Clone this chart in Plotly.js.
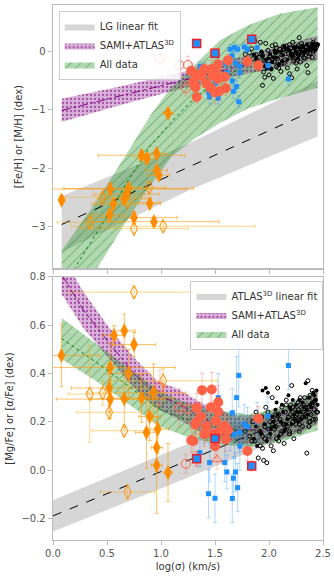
<!DOCTYPE html>
<html>
<head>
<meta charset="utf-8">
<script src="https://cdn.plot.ly/plotly-3.0.1.min.js"></script>
<style>
  body { margin: 0; background: #fff; }
  #myDiv { width: 334px; height: 584px; }
</style>
</head>
<body>
<div id="myDiv"></div>
<script>
// ---- fit bands, top panel ([Fe/H]) ----
var lgX = [0.08, 1.26, 2.45];
var lgLo = [-3.44, -2.38, -1.46];
var lgMid = [-2.97, -1.98, -0.98];
var lgHi = [-2.48, -1.58, -0.50];

var samiTopX = [0.08, 0.6, 1.2, 1.8, 2.45];
var samiTopLo = [-1.21, -0.93, -0.63, -0.38, -0.15];
var samiTopMid = [-1.01, -0.77, -0.49, -0.22, 0.06];
var samiTopHi = [-0.81, -0.61, -0.35, -0.06, 0.27];

var allTopX = [0.08, 0.2, 0.41, 0.65, 0.9, 1.1, 1.33, 1.55, 1.8, 2.1, 2.45];
var allTopLo = [-4.7, -4.3, -3.72, -3.0, -2.3, -1.8, -1.47, -1.22, -0.98, -0.8, -0.62];
var allTopMid = [-4.1, -3.72, -3.1, -2.35, -1.62, -1.2, -0.76, -0.48, -0.22, -0.03, 0.06];
var allTopHi = [-3.42, -3.1, -2.55, -1.85, -1.1, -0.6, -0.2, 0.2, 0.45, 0.65, 0.76];

// ---- fit bands, bottom panel ([Mg/Fe]) ----
var atlasX = [0.0, 1.2, 2.45];
var atlasLo = [-0.255, -0.04, 0.19];
var atlasMid = [-0.19, 0.03, 0.26];
var atlasHi = [-0.125, 0.10, 0.33];

var samiBotX = [0.08, 0.28, 0.52, 0.74, 0.96, 1.16, 1.4, 1.7, 1.98, 2.2, 2.45];
var samiBotLo = [0.73, 0.59, 0.46, 0.345, 0.255, 0.21, 0.15, 0.11, 0.11, 0.14, 0.19];
var samiBotMid = [0.81, 0.664, 0.526, 0.405, 0.312, 0.275, 0.21, 0.165, 0.168, 0.2, 0.255];
var samiBotHi = [0.89, 0.74, 0.59, 0.47, 0.37, 0.335, 0.27, 0.225, 0.23, 0.26, 0.325];

var allBotX = [0.08, 0.43, 0.74, 0.99, 1.23, 1.48, 1.8, 2.1, 2.45];
var allBotLo = [0.46, 0.36, 0.26, 0.18, 0.14, 0.11, 0.095, 0.115, 0.165];
var allBotMid = [0.545, 0.437, 0.334, 0.251, 0.21, 0.18, 0.16, 0.185, 0.244];
var allBotHi = [0.63, 0.515, 0.41, 0.325, 0.28, 0.25, 0.23, 0.255, 0.33];

// ---- massive galaxies (black), same x in both panels ----
var openX = [1.85,1.87,1.88,1.90,1.91,1.92,1.93,1.95,1.96,1.97,1.98,2.00,2.01,2.02,2.03,2.05,2.06,2.07,2.08,2.10,
             2.11,2.12,2.13,2.14,2.15,2.16,2.17,2.18,2.19,2.20,2.21,2.22,2.23,2.24,2.25,2.26,2.27,2.28,2.29,2.30,
             2.31,2.32,2.33,2.34,2.35,2.36,2.37,2.38,2.39,2.40,2.41,2.42,2.43,2.44,1.94,2.04,2.09,2.19,2.28,2.36,
             1.78,1.82,1.84,1.89,1.94,1.99,2.03,2.07,2.12,2.16,2.20,2.24,2.27,2.31,2.34,2.38,2.41,2.45,2.00,2.09,
             2.14,2.25,2.32,2.43,1.96,2.06,2.22,2.29,2.37,2.40];
var openFeH = [-0.12,0.18,-0.05,-0.28,-0.10,0.16,-0.02,-0.35,-0.15,0.14,-0.22,-0.40,-0.08,-0.30,0.10,-0.18,-0.02,-0.26,-0.12,0.04,
               -0.34,-0.06,0.08,-0.20,-0.14,0.02,-0.28,-0.04,0.12,-0.10,-0.45,0.00,-0.16,0.06,-0.08,-0.30,0.10,-0.02,-0.18,0.14,
               -0.06,0.04,-0.12,0.08,-0.24,0.00,0.12,-0.04,0.06,-0.10,0.16,0.02,0.10,0.08,-0.58,-0.46,-0.22,-0.38,0.24,-0.36,
               -0.05,-0.02,0.05,-0.18,-0.06,0.02,-0.12,0.06,-0.20,0.10,0.06,-0.12,-0.05,-0.02,0.02,0.08,0.00,0.12,-0.16,-0.28,
               0.04,-0.20,-0.10,0.04,-0.44,0.12,0.16,0.06,-0.08,0.04];
var openMgFe = [0.20,0.12,0.24,0.05,0.16,0.10,0.22,0.04,0.18,0.26,0.03,0.14,0.20,0.10,0.30,0.17,0.23,0.13,0.34,0.21,
                0.15,0.26,0.19,0.11,0.24,0.29,0.18,0.22,0.16,0.27,0.35,0.20,0.13,0.25,0.19,0.23,0.28,0.16,0.21,0.26,
                0.18,0.24,0.30,0.22,0.07,0.26,0.20,0.31,0.23,0.27,0.21,0.25,0.29,0.24,0.09,0.08,0.12,0.15,0.19,0.37,
                0.16,0.14,0.12,0.20,0.14,0.24,0.19,0.21,0.16,0.27,0.23,0.21,0.25,0.22,0.26,0.20,0.28,0.24,0.17,0.23,
                0.19,0.22,0.27,0.21,0.13,0.18,0.26,0.30,0.18,0.33];

var fillX = [1.86,1.89,1.92,1.94,1.96,1.99,2.01,2.03,2.05,2.07,2.09,2.11,2.13,2.15,2.17,2.19,2.21,2.23,2.25,2.27,
             2.29,2.31,2.33,2.35,2.37,2.39,2.41,2.43,1.98,2.06,2.14,2.22,2.30,2.38,2.44,1.90,2.02,2.18,2.26,2.34,
             1.88,1.93,1.97,2.04,2.08,2.12,2.16,2.20,2.24,2.28,2.32,2.36,2.40,2.42,2.45];
var fillFeH = [-0.05,-0.15,-0.20,-0.08,-0.25,-0.12,-0.04,-0.18,0.02,-0.10,-0.22,0.00,-0.06,0.06,-0.14,0.02,-0.08,0.08,0.00,-0.12,
               0.05,0.10,-0.02,0.12,0.04,0.08,0.14,0.10,-0.30,-0.02,0.10,-0.04,0.00,0.06,0.12,-0.22,-0.30,0.04,0.08,0.02,
               -0.10,0.00,-0.14,-0.10,0.00,-0.16,0.04,-0.04,0.06,-0.06,0.08,0.02,0.10,0.04,0.12];
var fillMgFe = [0.13,0.10,0.16,0.33,0.19,0.32,0.15,0.22,0.18,0.28,0.14,0.20,0.24,0.17,0.21,0.26,0.19,0.23,0.27,0.20,
                0.24,0.28,0.22,0.25,0.30,0.26,0.32,0.29,0.12,0.25,0.16,0.29,0.21,0.27,0.33,0.20,0.17,0.31,0.24,0.36,
                0.18,0.15,0.34,0.20,0.23,0.27,0.19,0.25,0.21,0.29,0.26,0.23,0.28,0.31,0.27];

// ---- blue squares ----
var blueX = [1.36,1.40,1.44,1.45,1.50,1.53,1.59,1.61,1.64,1.66,1.66,1.67,1.68,1.69,1.70,1.71,1.72,1.73,1.73,1.77,1.80,1.89,1.99,2.18];
var blueFeH = [-0.25,-0.30,-0.70,-0.78,-0.55,-0.80,-0.20,-0.36,0.04,-0.07,-0.50,-0.68,0.07,-0.20,-0.60,0.04,-0.86,-0.36,-0.25,0.08,0.04,0.07,-0.24,-0.47];
var blueFeHErr = [0.08,0.10,0.10,0.12,0.10,0.10,0.08,0.10,0.08,0.08,0.10,0.12,0.08,0.08,0.10,0.08,0.10,0.10,0.08,0.08,0.08,0.08,0.08,0.10];
var blueMgFe = [0.072,0.19,-0.098,0.031,-0.117,0.30,0.031,-0.008,0.16,0.237,-0.118,-0.034,0.148,-0.008,0.30,-0.073,0.392,0.099,0.155,0.19,0.18,0.20,0.224,0.433];
var blueMgFeErr = [0.06,0.08,0.10,0.08,0.10,0.10,0.08,0.07,0.08,0.10,0.10,0.09,0.10,0.08,0.17,0.10,0.13,0.10,0.08,0.08,0.08,0.08,0.08,0.10];

// ---- red circles ----
var redX = [1.28,1.30,1.32,1.33,1.33,1.37,1.38,1.40,1.42,1.46,1.47,1.48,1.50,1.51,1.53,1.53,1.54,1.59,1.60,1.62,1.80,1.90];
var redFeH = [-0.33,-0.52,-0.61,-0.78,-0.40,-0.42,-0.38,-0.30,-0.55,-0.62,-0.30,-0.41,-0.70,-0.32,-0.22,-0.47,-0.68,-0.43,-0.63,-0.15,-0.17,-0.24];
var redFeHErr = [0.12,0.15,0.12,0.10,0.15,0.12,0.15,0.12,0.15,0.20,0.15,0.12,0.20,0.15,0.12,0.20,0.15,0.12,0.12,0.10,0.10,0.10];
var redMgFe = [0.123,0.12,0.189,0.258,0.20,0.221,0.331,0.148,0.182,0.26,0.334,0.15,0.099,0.203,0.242,0.281,0.16,0.182,0.127,0.166,0.079,0.213];
var redMgFeErr = [0.05,0.05,0.06,0.06,0.05,0.06,0.07,0.05,0.06,0.07,0.07,0.05,0.05,0.06,0.06,0.07,0.05,0.05,0.05,0.05,0.04,0.05];

var redOpenX = [0.99, 1.17, 1.23, 1.25];
var redOpenFeH = [-0.13, -0.23, -0.63, -0.23];
var redOpenFeHErr = [0.29, 0.15, 0.12, 0.15];
var redOpenMgFe = [0.345, 0.258, 0.026, 0.254];
var redOpenMgFeErr = [0.07, 0.08, 0.04, 0.06];

var triX = [1.52];
var triMgFe = [0.044];

var boxX = [1.33, 1.50, 1.84];
var boxFeH = [0.14, -0.03, 0.21];
var boxMgFe = [0.047, 0.131, 0.017];

// ---- dwarfs (orange diamonds) ----
var dwTopX = [1.065,0.82,0.87,0.96,0.96,0.98,0.08,0.53,0.70,0.68,0.66,0.56,0.525,0.895,0.75,0.935];
var dwTopY = [-1.06,-1.78,-1.84,-1.75,-2.04,-2.12,-2.55,-2.36,-2.35,-2.45,-2.53,-2.62,-2.80,-2.61,-2.85,-2.92];
var dwTopXErr = [0.05,0.4,0.1,0.08,0.1,0.1,0.03,0.7,0.6,0.3,0.25,0.2,0.15,0.1,0.4,0.6];
var dwTopYErr = [0.06,0.08,0.08,0.08,0.08,0.08,0.08,0.1,0.1,0.1,0.1,0.1,0.1,0.08,0.1,0.08];

var dwoTopX = [0.46, 0.69, 0.89, 0.34, 0.75, 1.02];
var dwoTopY = [-2.50, -2.59, -2.33, -2.93, -3.04, -3.00];
var dwoTopXErr = [0.4, 0.3, 0.15, 0.3, 0.5, 0.85];
var dwoTopYErr = [0.08, 0.08, 0.1, 0.12, 0.08, 0.08];

var dwBotX = [0.078,0.565,0.66,0.75,0.53,0.70,0.52,0.53,0.66,0.82,0.93,0.895,0.97,0.865,0.96,0.96,1.065];
var dwBotY = [0.475,0.558,0.577,0.52,0.425,0.40,0.34,0.294,0.295,0.298,0.32,0.222,0.17,0.156,0.093,0.02,-0.01];
var dwBotXErr = [0.35,0.1,0.1,0.2,0.6,0.2,0.35,0.5,0.3,0.3,0.3,0.1,0.1,0.1,0.05,0.05,0.04];
var dwBotYErr = [0.13,0.04,0.07,0.05,0.1,0.1,0.1,0.08,0.12,0.1,0.12,0.1,0.1,0.15,0.1,0.2,0.12];

var dwoBotX = [0.75, 1.02, 0.34, 0.46, 0.52, 0.66, 0.69];
var dwoBotY = [0.737, 0.37, 0.315, 0.319, 0.239, 0.163, -0.091];
var dwoBotXErr = [0.6, 0.5, 0.2, 0.15, 0.3, 0.3, 0.25];
var dwoBotYErr = [0.02, 0.05, 0.2, 0.05, 0.03, 0.02, 0.03];

var PURPLE = '#800080', GREEN = '#008000', ORANGE = '#ff8c00', TOMATO = '#ff6347', BLUE = '#1e90ff';

function band(x, lo, hi, name, ax, leg, style) {
    var px = x.concat(x.slice().reverse());
    var py = hi.concat(lo.slice().reverse());
    var t = {
        x: px, y: py, xaxis: ax[0], yaxis: ax[1], legend: leg,
        type: 'scatter', mode: 'lines', fill: 'toself', name: name,
        line: { width: 0 }, hoverinfo: 'skip'
    };
    for (var k in style) t[k] = style[k];
    return t;
}
function mid(x, y, ax, color, dash) {
    return { x: x, y: y, xaxis: ax[0], yaxis: ax[1], type: 'scatter', mode: 'lines',
             line: { color: color, width: 1, dash: dash }, showlegend: false, hoverinfo: 'skip' };
}
function pts(x, y, ax, marker, ex, ey, ecol) {
    var t = { x: x, y: y, xaxis: ax[0], yaxis: ax[1], type: 'scatter', mode: 'markers',
              marker: marker, showlegend: false };
    if (ey) t.error_y = { type: 'data', array: ey, color: ecol, thickness: 1, width: 2 };
    if (ex) t.error_x = { type: 'data', array: ex, color: ecol, thickness: 1, width: 2 };
    return t;
}

var top = ['x', 'y'], bot = ['x2', 'y2'];
var grayStyle = { fillcolor: 'rgba(128,128,128,0.32)' };
var purpleStyle = { fillcolor: 'rgba(128,0,128,0.3)',
    fillpattern: { shape: '.', size: 4, solidity: 0.25, fgcolor: 'rgba(128,0,128,0.55)', bgcolor: 'rgba(128,0,128,0.3)' } };
var greenStyle = { fillcolor: 'rgba(0,128,0,0.3)',
    fillpattern: { shape: '/', size: 7, solidity: 0.12, fgcolor: 'rgba(0,110,0,0.55)', bgcolor: 'rgba(0,128,0,0.3)' } };

var data = [
    band(lgX, lgLo, lgHi, 'LG linear fit', top, 'legend', grayStyle),
    band(samiTopX, samiTopLo, samiTopHi, 'SAMI+ATLAS<sup>3D</sup>', top, 'legend', purpleStyle),
    band(allTopX, allTopLo, allTopHi, 'All data', top, 'legend', greenStyle),
    mid(lgX, lgMid, top, '#000', 'dash'),
    mid(samiTopX, samiTopMid, top, PURPLE, 'dashdot'),
    mid(allTopX, allTopMid, top, GREEN, 'dot'),

    band(atlasX, atlasLo, atlasHi, 'ATLAS<sup>3D</sup> linear fit', bot, 'legend2', grayStyle),
    band(samiBotX, samiBotLo, samiBotHi, 'SAMI+ATLAS<sup>3D</sup>', bot, 'legend2', purpleStyle),
    band(allBotX, allBotLo, allBotHi, 'All data', bot, 'legend2', greenStyle),
    mid(atlasX, atlasMid, bot, '#000', 'dash'),
    mid(samiBotX, samiBotMid, bot, PURPLE, 'dashdot'),
    mid(allBotX, allBotMid, bot, GREEN, 'dot'),

    // top panel points
    pts(openX, openFeH, top, { symbol: 'circle-open', size: 4, color: '#000', line: { width: 1 } }),
    pts(fillX, fillFeH, top, { symbol: 'circle', size: 4, color: '#000' }),
    pts(blueX, blueFeH, top, { symbol: 'square', size: 5, color: BLUE }, null, blueFeHErr, 'rgba(30,144,255,0.35)'),
    pts(redOpenX, redOpenFeH, top, { symbol: 'circle-open', size: 9, color: TOMATO, line: { width: 1 } }, null, redOpenFeHErr, 'rgba(255,99,71,0.35)'),
    pts(redX, redFeH, top, { symbol: 'circle', size: 10, color: TOMATO }, null, redFeHErr, 'rgba(255,99,71,0.4)'),
    pts(boxX, boxFeH, top, { symbol: 'square', size: 8, color: BLUE, line: { color: '#e8202a', width: 1.5 } }, null, [0.07, 0.07, 0.05], 'rgba(255,60,60,0.6)'),
    pts(dwoTopX, dwoTopY, top, { symbol: 'diamond-tall-open', size: 10, color: ORANGE, line: { width: 1 } }, dwoTopXErr, dwoTopYErr, 'rgba(255,165,0,0.45)'),
    pts(dwTopX, dwTopY, top, { symbol: 'diamond-tall', size: 11, color: ORANGE }, dwTopXErr, dwTopYErr, 'rgba(255,150,0,0.6)'),

    // bottom panel points
    pts(openX, openMgFe, bot, { symbol: 'circle-open', size: 4, color: '#000', line: { width: 1 } }),
    pts(fillX, fillMgFe, bot, { symbol: 'circle', size: 4, color: '#000' }),
    pts(blueX, blueMgFe, bot, { symbol: 'square', size: 5, color: BLUE }, null, blueMgFeErr, 'rgba(30,144,255,0.35)'),
    pts(redOpenX, redOpenMgFe, bot, { symbol: 'circle-open', size: 9, color: TOMATO, line: { width: 1 } }, null, redOpenMgFeErr, 'rgba(255,99,71,0.35)'),
    pts(triX, triMgFe, bot, { symbol: 'triangle-up-open', size: 9, color: TOMATO, line: { width: 1 } }, null, [0.04], 'rgba(255,99,71,0.35)'),
    pts(redX, redMgFe, bot, { symbol: 'circle', size: 10, color: TOMATO }, null, redMgFeErr, 'rgba(255,99,71,0.4)'),
    pts(boxX, boxMgFe, bot, { symbol: 'square', size: 8, color: BLUE, line: { color: '#e8202a', width: 1.5 } }, null, [0.03, 0.03, 0.02], 'rgba(255,60,60,0.6)'),
    pts(dwoBotX, dwoBotY, bot, { symbol: 'diamond-tall-open', size: 10, color: ORANGE, line: { width: 1 } }, dwoBotXErr, dwoBotYErr, 'rgba(255,165,0,0.45)'),
    pts(dwBotX, dwBotY, bot, { symbol: 'diamond-tall', size: 11, color: ORANGE }, dwBotXErr, dwBotYErr, 'rgba(255,150,0,0.6)')
];

var frame = { showline: true, mirror: true, linecolor: '#bbbbbb', linewidth: 1.3, showgrid: false, zeroline: false,
              ticks: 'outside', ticklen: 4, tickcolor: '#bbbbbb', tickfont: { size: 10, color: '#555' } };
function ax(extra) { var a = {}; for (var k in frame) a[k] = frame[k]; for (var e in extra) a[e] = extra[e]; return a; }

var legendStyle = { bgcolor: 'rgba(255,255,255,0.85)', bordercolor: '#cccccc', borderwidth: 1,
                    font: { family: 'DejaVu Sans', size: 10, color: '#333' }, xanchor: 'left', yanchor: 'top',
                    tracegroupgap: 0, itemwidth: 30 };
var leg1 = {}, leg2 = {};
for (var k in legendStyle) { leg1[k] = legendStyle[k]; leg2[k] = legendStyle[k]; }
leg1.x = 0.021; leg1.y = 0.989;
leg2.x = 0.509; leg2.y = 0.485;

var layout = {
    width: 334, height: 584,
    margin: { l: 53, r: 11, t: 5, b: 44 },
    paper_bgcolor: '#fff', plot_bgcolor: '#fff',
    font: { family: 'DejaVu Sans', size: 10, color: '#333' },
    showlegend: true,
    xaxis: ax({ domain: [0, 1], anchor: 'y', range: [0, 2.5], dtick: 0.5, tick0: 0, showticklabels: false }),
    yaxis: ax({ domain: [0.508, 1], anchor: 'x', range: [-3.72, 0.8], dtick: 1, tick0: 0,
                title: { text: '[Fe/H] or [M/H] (dex)', font: { size: 10, color: '#333' }, standoff: 6 } }),
    xaxis2: ax({ domain: [0, 1], anchor: 'y2', range: [0, 2.5], dtick: 0.5, tick0: 0, tickformat: '.1f',
                 title: { text: 'log(σ) (km/s)', font: { size: 10, color: '#333' }, standoff: 4 } }),
    yaxis2: ax({ domain: [0, 0.4916], anchor: 'x2', range: [-0.29, 0.8], dtick: 0.2, tick0: 0, tickformat: '.1f',
                 title: { text: '[Mg/Fe] or [α/Fe] (dex)', font: { size: 10, color: '#333' }, standoff: 6 } }),
    legend: leg1,
    legend2: leg2
};

Plotly.newPlot('myDiv', data, layout, { displayModeBar: false, staticPlot: true });
</script>
</body>
</html>
